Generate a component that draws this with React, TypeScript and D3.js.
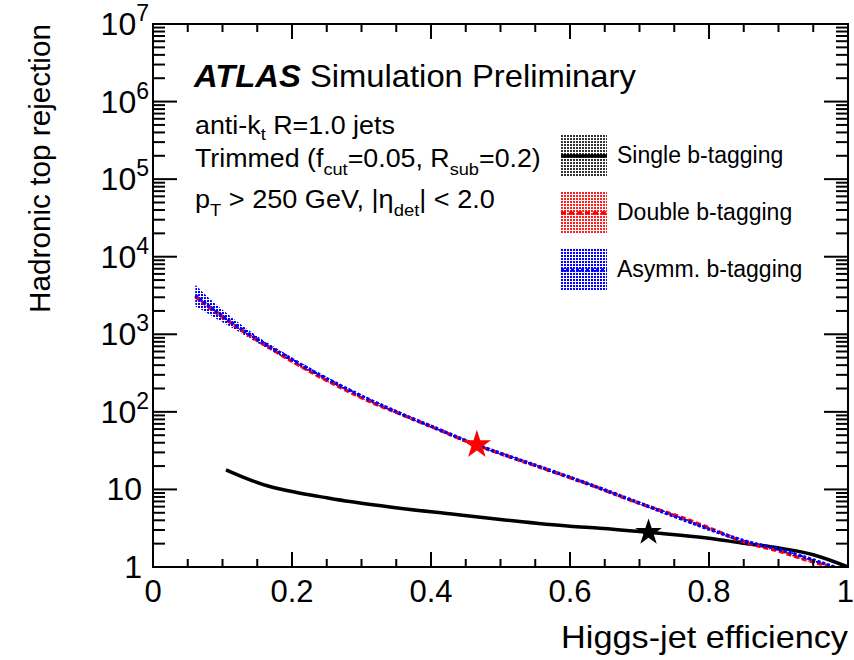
import React, { useRef, useLayoutEffect, useState } from 'react';
import * as d3 from 'd3';

// ---------- data ----------
const effAB = [0.061, 0.08, 0.1, 0.12, 0.14, 0.17, 0.2, 0.235, 0.27, 0.3, 0.365, 0.41, 0.456, 0.5, 0.557, 0.6, 0.643, 0.7, 0.75, 0.8, 0.85, 0.9, 0.95, 0.98];
const asymm = [3162, 2328, 1718, 1291, 984, 673, 473, 316, 217, 160, 87.9, 60.0, 40.5, 29.2, 19.5, 14.3, 10.4, 6.67, 4.51, 3.08, 2.18, 1.69, 1.23, 1.0];
const asymmHigh = [4364, 2966, 2065, 1482, 1091, 726, 501, 331, 226, 166, 90.5, 61.8, 41.7, 30.1, 20.1, 14.7, 10.7, 6.87, 4.65, 3.17, 2.25, 1.74, 1.27, 1.03];
const asymmLow = [2291, 1827, 1429, 1125, 887, 624, 447, 302, 209, 155, 85.3, 58.3, 39.3, 28.3, 18.9, 13.9, 10.1, 6.48, 4.38, 2.99, 2.12, 1.64, 1.19, 1.0];

const double = [3067, 2258, 1666, 1252, 954, 653, 449, 300, 206, 152, 87.0, 59.4, 40.1, 28.9, 19.3, 14.2, 10.3, 6.60, 4.69, 3.20, 2.11, 1.61, 1.16, 1.0];
const doubleHigh = [3773, 2653, 1891, 1388, 1034, 697, 472, 313, 213, 157, 89.4, 61.1, 41.2, 29.7, 19.8, 14.6, 10.6, 6.79, 4.82, 3.29, 2.17, 1.66, 1.19, 1.03];
const doubleLow = [2494, 1922, 1468, 1129, 880, 612, 427, 288, 199, 148, 84.6, 57.8, 39.0, 28.1, 18.8, 13.8, 10.0, 6.42, 4.56, 3.11, 2.05, 1.57, 1.13, 1.0];

const effS = [0.105, 0.135, 0.168, 0.212, 0.25, 0.283, 0.355, 0.427, 0.5, 0.6, 0.643, 0.715, 0.8, 0.849, 0.902, 0.95, 1.0];
const single = [17.9, 13.8, 10.9, 8.95, 7.8, 6.97, 5.73, 4.85, 4.1, 3.35, 3.17, 2.79, 2.35, 2.03, 1.75, 1.44, 1.0];

const starRed = [0.466, 37.6];
const starBlack = [0.713, 2.79];

const xTickLabels = ['0', '0.2', '0.4', '0.6', '0.8', '1'];
const xTickValues = [0, 0.2, 0.4, 0.6, 0.8, 1];
const yDecades = [0, 1, 2, 3, 4, 5, 6, 7];

const legendItems = [
  { label: 'Single b-tagging', color: '#000000', pattern: 'patGray', dash: null },
  { label: 'Double b-tagging', color: '#ff0000', pattern: 'patRed', dash: '5 3' },
  { label: 'Asymm. b-tagging', color: '#0000ff', pattern: 'patBlue', dash: '3 2' },
];

// ---------- layout ----------
const W = 854, H = 660;
const L = 153, R = 848, T = 24, B = 567;
const FONT = '"Liberation Sans", Arial, Helvetica, sans-serif';

function FitText({ x, y, width, anchor = 'start', fontSize, rotate = 0, children, ...rest }: any) {
  const ref = useRef<SVGTextElement>(null);
  const [sx, setSx] = useState(1);
  useLayoutEffect(() => {
    if (ref.current) {
      const w = ref.current.getBBox().width;
      if (w > 0) setSx(width / w);
    }
  }, [width]);
  return (
    <g transform={`translate(${x},${y}) rotate(${rotate}) scale(${sx},1)`}>
      <text ref={ref} x={0} y={0} textAnchor={anchor} fontSize={fontSize} fontFamily={FONT} {...rest}>{children}</text>
    </g>
  );
}

export default function App() {
  const x = d3.scaleLinear().domain([0, 1]).range([L, R]);
  const y = d3.scaleLog().domain([1, 1e7]).range([B, T]);

  const line = (xs: number[], ys: number[]) =>
    d3.line<number>().x((_, i) => x(xs[i])).y((d) => y(d)).curve(d3.curveMonotoneX)(ys) as string;
  const band = (xs: number[], lo: number[], hi: number[]) =>
    d3.area<number>().x((_, i) => x(xs[i])).y0((_, i) => y(lo[i])).y1((d) => y(d)).curve(d3.curveMonotoneX)(hi) as string;

  const majorY = yDecades.map((d) => Math.pow(10, d));
  const minorY: number[] = [];
  for (let d = 0; d < 7; d++) for (let k = 2; k <= 9; k++) minorY.push(k * Math.pow(10, d));
  const minorX = d3.range(0, 1.0001, 0.05);

  const star = (r: number) => d3.symbol().type(d3.symbolStar).size((r * r) / 0.8908130915292852)() as string;

  return (
    <svg width={W} height={H} style={{ position: 'absolute', left: 0, top: 0, background: '#fff' }} fontFamily={FONT}>
      <defs>
        <clipPath id="plotClip"><rect x={L} y={T} width={R - L} height={B - T} /></clipPath>
        <pattern id="patBlue" width={3} height={3} patternUnits="userSpaceOnUse">
          <rect width={2} height={2} fill="#0000ff" />
        </pattern>
        <pattern id="patRed" width={3} height={3} patternUnits="userSpaceOnUse">
          <rect width={2} height={2} fill="#ff2020" />
        </pattern>
        <pattern id="patGray" width={3} height={3} patternUnits="userSpaceOnUse">
          <rect width={2} height={2} fill="#333333" />
        </pattern>
      </defs>
      <rect x={0} y={0} width={W} height={H} fill="#fff" />

      {/* curves */}
      <g clipPath="url(#plotClip)">
        <path d={band(effAB, doubleLow, doubleHigh)} fill="url(#patRed)" />
        <path d={band(effAB, asymmLow, asymmHigh)} fill="url(#patBlue)" />
        <path d={line(effS, single)} fill="none" stroke="#000" strokeWidth={3.5} />
        <path d={line(effAB, double)} fill="none" stroke="#ff0000" strokeWidth={3.5} strokeDasharray="5 3" />
        <path d={line(effAB, asymm)} fill="none" stroke="#0000ff" strokeWidth={3.5} strokeDasharray="3 2" />
      </g>

      {/* stars */}
      <path d={star(15)} transform={`translate(${x(starRed[0])},${y(starRed[1])})`} fill="#ff0000" />
      <path d={star(14)} transform={`translate(${x(starBlack[0])},${y(starBlack[1])})`} fill="#000" />

      {/* frame */}
      <rect x={L} y={T} width={R - L} height={B - T} fill="none" stroke="#000" strokeWidth={2} />

      {/* y ticks */}
      {majorY.map((v) => (
        <g key={'my' + v}>
          <line x1={L} x2={L + 24} y1={y(v)} y2={y(v)} stroke="#000" strokeWidth={2} />
          <line x1={R} x2={R - 24} y1={y(v)} y2={y(v)} stroke="#000" strokeWidth={2} />
        </g>
      ))}
      {minorY.map((v) => (
        <g key={'ny' + v}>
          <line x1={L} x2={L + 12} y1={y(v)} y2={y(v)} stroke="#000" strokeWidth={2} />
          <line x1={R} x2={R - 12} y1={y(v)} y2={y(v)} stroke="#000" strokeWidth={2} />
        </g>
      ))}
      {/* x ticks */}
      {minorX.map((v, i) => {
        const major = i % 4 === 0;
        const len = major ? 15 : 8;
        return (
          <g key={'x' + i}>
            <line x1={x(v)} x2={x(v)} y1={B} y2={B - len} stroke="#000" strokeWidth={2} />
            <line x1={x(v)} x2={x(v)} y1={T} y2={T + len} stroke="#000" strokeWidth={2} />
          </g>
        );
      })}

      {/* x tick labels */}
      {xTickValues.map((v, i) => (
        i === xTickValues.length - 1
          ? <text key={'xl' + i} x={854} y={602} textAnchor="end" fontSize={31}>{xTickLabels[i]}</text>
          : <text key={'xl' + i} x={x(v)} y={602} textAnchor="middle" fontSize={31}>{xTickLabels[i]}</text>
      ))}
      {/* y tick labels */}
      {yDecades.map((d) => {
        const yy = y(Math.pow(10, d)) + 11;
        if (d === 0) return <text key={'yl' + d} x={142} y={yy} textAnchor="end" fontSize={32}>1</text>;
        if (d === 1) return <text key={'yl' + d} x={142} y={yy} textAnchor="end" fontSize={32}>10</text>;
        return (
          <text key={'yl' + d} x={149} y={yy} textAnchor="end" fontSize={32}>
            10<tspan fontSize={23} dy={-14}>{d}</tspan>
          </text>
        );
      })}

      {/* axis titles */}
      <FitText x={R} y={648} width={287} anchor="end" fontSize={32}>Higgs-jet efficiency</FitText>
      <FitText x={50} y={T} width={289} anchor="end" fontSize={30} rotate={-90}>Hadronic top rejection</FitText>

      {/* captions */}
      <FitText x={194} y={87} width={443} fontSize={32}>
        <tspan fontWeight="bold" fontStyle="italic">ATLAS</tspan>
        <tspan> Simulation Preliminary</tspan>
      </FitText>
      <FitText x={195} y={134} width={200} fontSize={25}>
        anti-k<tspan fontSize={17} dy={6}>t</tspan><tspan dy={-6}> R=1.0 jets</tspan>
      </FitText>
      <FitText x={195} y={167} width={346} fontSize={25}>
        Trimmed (f<tspan fontSize={17} dy={8}>cut</tspan><tspan dy={-8}>=0.05, R</tspan>
        <tspan fontSize={17} dy={8}>sub</tspan><tspan dy={-8}>=0.2)</tspan>
      </FitText>
      <FitText x={195} y={208} width={300} fontSize={25}>
        p<tspan fontSize={17} dy={8}>T</tspan><tspan dy={-8}> &gt; 250 GeV, |η</tspan>
        <tspan fontSize={17} dy={8}>det</tspan><tspan dy={-8}>| &lt; 2.0</tspan>
      </FitText>

      {/* legend */}
      {legendItems.map((it, i) => {
        const by = 135 + i * 57;
        return (
          <g key={'lg' + i}>
            <rect x={561} y={by} width={46} height={42} fill={`url(#${it.pattern})`} />
            <line x1={561} x2={607} y1={by + 21} y2={by + 21} stroke={it.color} strokeWidth={3.5}
              strokeDasharray={it.dash ?? undefined} />
            <text x={617} y={by + 28} fontSize={23}>{it.label}</text>
          </g>
        );
      })}
    </svg>
  );
}
